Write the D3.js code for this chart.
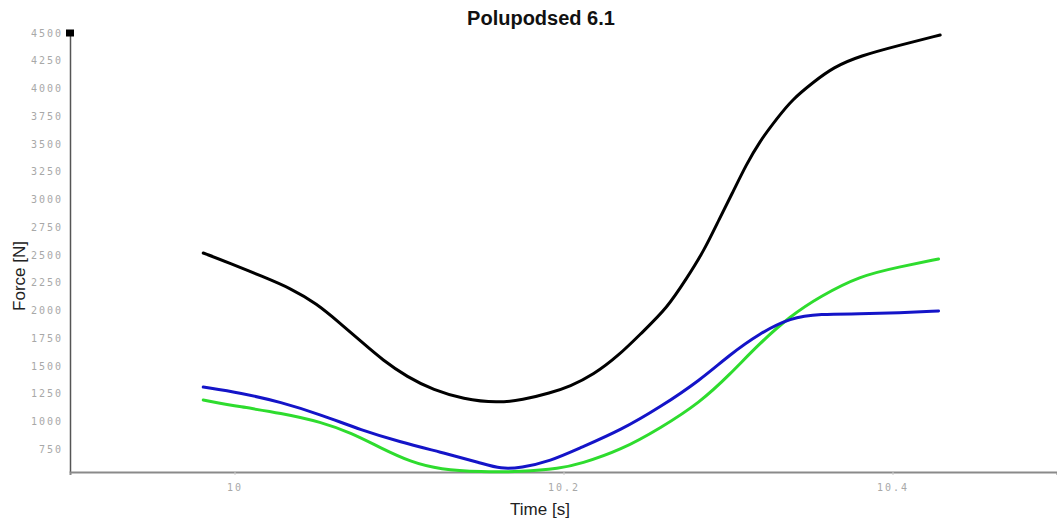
<!DOCTYPE html>
<html>
<head>
<meta charset="utf-8">
<script src="https://cdn.jsdelivr.net/npm/d3@7"></script>
<style>
  html, body { margin: 0; padding: 0; background: #fff; }
  svg { display: block; }
  .tick text { font-family: "DejaVu Sans Mono", monospace; font-size: 10px; fill: #a8a8a8; letter-spacing: 2px; }
</style>
</head>
<body>
<svg id="chart" width="1057" height="524"></svg>
<script>
// Force traces over time (seconds -> newtons)
const timeBlack  = [9.981, 9.997, 10.017, 10.034, 10.050, 10.064, 10.078, 10.090, 10.105, 10.121, 10.139, 10.160, 10.175, 10.192, 10.204, 10.218, 10.234, 10.248, 10.263, 10.275, 10.285, 10.295, 10.303, 10.311, 10.319, 10.330, 10.339, 10.352, 10.364, 10.380, 10.405, 10.429];
const forceBlack = [2517, 2427, 2305, 2200, 2060, 1886, 1706, 1553, 1399, 1282, 1201, 1165, 1192, 1255, 1315, 1417, 1598, 1805, 2021, 2292, 2526, 2833, 3067, 3310, 3518, 3734, 3900, 4058, 4190, 4293, 4392, 4482];

const timeBlue  = [9.981, 10.004, 10.028, 10.053, 10.077, 10.101, 10.125, 10.150, 10.162, 10.174, 10.192, 10.210, 10.235, 10.259, 10.283, 10.301, 10.319, 10.338, 10.356, 10.380, 10.404, 10.428];
const forceBlue = [1309, 1255, 1174, 1057, 921, 813, 723, 624, 570, 580, 640, 759, 921, 1130, 1370, 1600, 1790, 1935, 1967, 1967, 1976, 1994];

const timeGreen  = [9.981, 10.004, 10.028, 10.053, 10.071, 10.089, 10.107, 10.125, 10.150, 10.174, 10.198, 10.210, 10.235, 10.259, 10.283, 10.301, 10.319, 10.338, 10.356, 10.380, 10.404, 10.428];
const forceGreen = [1192, 1129, 1075, 993, 894, 759, 633, 565, 543, 545, 575, 615, 741, 939, 1170, 1420, 1700, 1950, 2125, 2310, 2391, 2463];

const xTicks = [10, 10.2, 10.4];
const yTicks = [750, 1000, 1250, 1500, 1750, 2000, 2250, 2500, 2750, 3000, 3250, 3500, 3750, 4000, 4250, 4500];

const titleText = "Polupodsed 6.1";
const xLabel = "Time [s]";
const yLabel = "Force [N]";

const series = [
  { t: timeGreen, f: forceGreen, color: "#2edc2e" },
  { t: timeBlue,  f: forceBlue,  color: "#1414c8" },
  { t: timeBlack, f: forceBlack, color: "#000000" }
];

const W = 1057, H = 524;
const m = { left: 70, right: 0, top: 33, bottom: 52 };

const svg = d3.select("#chart");

const x = d3.scaleLinear().domain([9.9, 10.5]).range([m.left, W - m.right]);
const yMin = d3.min([forceBlack, forceBlue, forceGreen].flat());
const y = d3.scaleLinear().domain([yMin, 4500]).range([H - m.bottom, m.top]);

// Y axis
const yAxis = svg.append("g")
  .attr("transform", `translate(${m.left},0)`)
  .call(d3.axisLeft(y).tickValues(yTicks).tickSize(0).tickPadding(7).tickFormat(d3.format("d")));
yAxis.select(".domain").attr("stroke", "#555").attr("stroke-width", 1.5);

// X axis
const xAxis = svg.append("g")
  .attr("transform", `translate(0,${H - m.bottom})`)
  .call(d3.axisBottom(x).tickValues(xTicks).tickSize(3).tickPadding(9).tickFormat(d => d3.format("")(d)));
xAxis.select(".domain").attr("stroke", "#8a8a8a").attr("stroke-width", 2);
xAxis.selectAll(".tick line").attr("stroke", "#ccc");

// Marker at the top of the force axis
svg.append("rect")
  .attr("x", m.left - 4).attr("y", y(4500) - 3.5)
  .attr("width", 8).attr("height", 7)
  .attr("fill", "#000");

// Lines
const line = d3.line().curve(d3.curveBasis);
series.forEach(s => {
  const pts = s.t.map((t, i) => [x(t), y(s.f[i])]);
  svg.append("path")
    .attr("d", line(pts))
    .attr("fill", "none")
    .attr("stroke", s.color)
    .attr("stroke-width", 3)
    .attr("stroke-linejoin", "round")
    .attr("stroke-linecap", "round");
});

// Title and axis labels
svg.append("text")
  .attr("x", 541).attr("y", 25)
  .attr("text-anchor", "middle")
  .attr("font-family", "Liberation Sans, Arial, sans-serif")
  .attr("font-weight", "bold")
  .attr("font-size", 20)
  .attr("fill", "#111")
  .text(titleText);

svg.append("text")
  .attr("x", 540).attr("y", 515)
  .attr("text-anchor", "middle")
  .attr("font-family", "Liberation Sans, Arial, sans-serif")
  .attr("font-size", 17)
  .attr("fill", "#222")
  .text(xLabel);

svg.append("text")
  .attr("transform", "translate(25,276) rotate(-90)")
  .attr("text-anchor", "middle")
  .attr("font-family", "Liberation Sans, Arial, sans-serif")
  .attr("font-size", 17)
  .attr("fill", "#222")
  .text(yLabel);
</script>
</body>
</html>
